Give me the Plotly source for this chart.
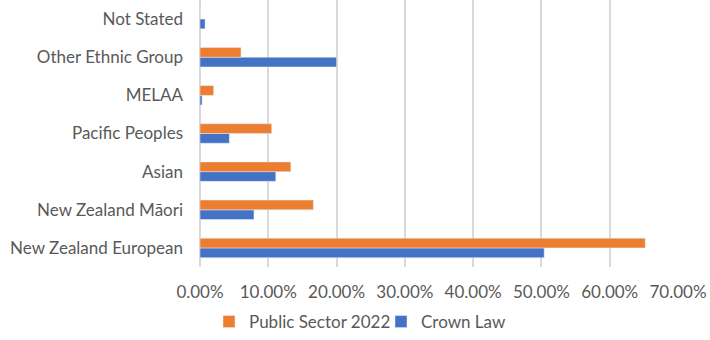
import plotly.graph_objects as go

categories = ["New Zealand European", "New Zealand Māori", "Asian", "Pacific Peoples",
              "MELAA", "Other Ethnic Group", "Not Stated"]
public_sector_2022 = [0.652, 0.166, 0.133, 0.105, 0.020, 0.060, 0.0]
crown_law = [0.504, 0.079, 0.111, 0.043, 0.003, 0.200, 0.0074]
x_ticks = [0, 0.1, 0.2, 0.3, 0.4, 0.5, 0.6, 0.7]

fig = go.Figure()
fig.add_trace(go.Bar(y=categories, x=crown_law, orientation="h", name="Crown Law",
                     marker=dict(color="#4472C4"), legendrank=2))
fig.add_trace(go.Bar(y=categories, x=public_sector_2022, orientation="h",
                     name="Public Sector 2022", marker=dict(color="#ED7D31"), legendrank=1))

font = dict(family="Lato, Carlito, Calibri, sans-serif", size=17, color="#595959")
fig.update_layout(
    width=710, height=340,
    margin=dict(l=200, r=32, t=0, b=73),
    plot_bgcolor="white", paper_bgcolor="white",
    barmode="group", bargap=0.49, bargroupgap=0,
    font=font,
    showlegend=True,
    legend=dict(orientation="h", xref="container", x=209 / 710, xanchor="left",
                yref="container", y=-0.03, yanchor="bottom",
                font=font, itemwidth=30, traceorder="normal",
                entrywidth=127, entrywidthmode="pixels"),
    xaxis=dict(range=[0, 0.7], tickvals=x_ticks, tickformat=".2%",
               showgrid=True, gridcolor="#d9d9d9", gridwidth=1.5,
               zeroline=True, zerolinecolor="#d9d9d9", zerolinewidth=1.5,
               showline=False, ticks="", tickfont=font, automargin=False,
               ticklabelstandoff=13),
    yaxis=dict(showgrid=False, ticks="", ticklabelstandoff=16, tickfont=font,
               showline=False, automargin=False),
)
fig.write_html("out.html")
